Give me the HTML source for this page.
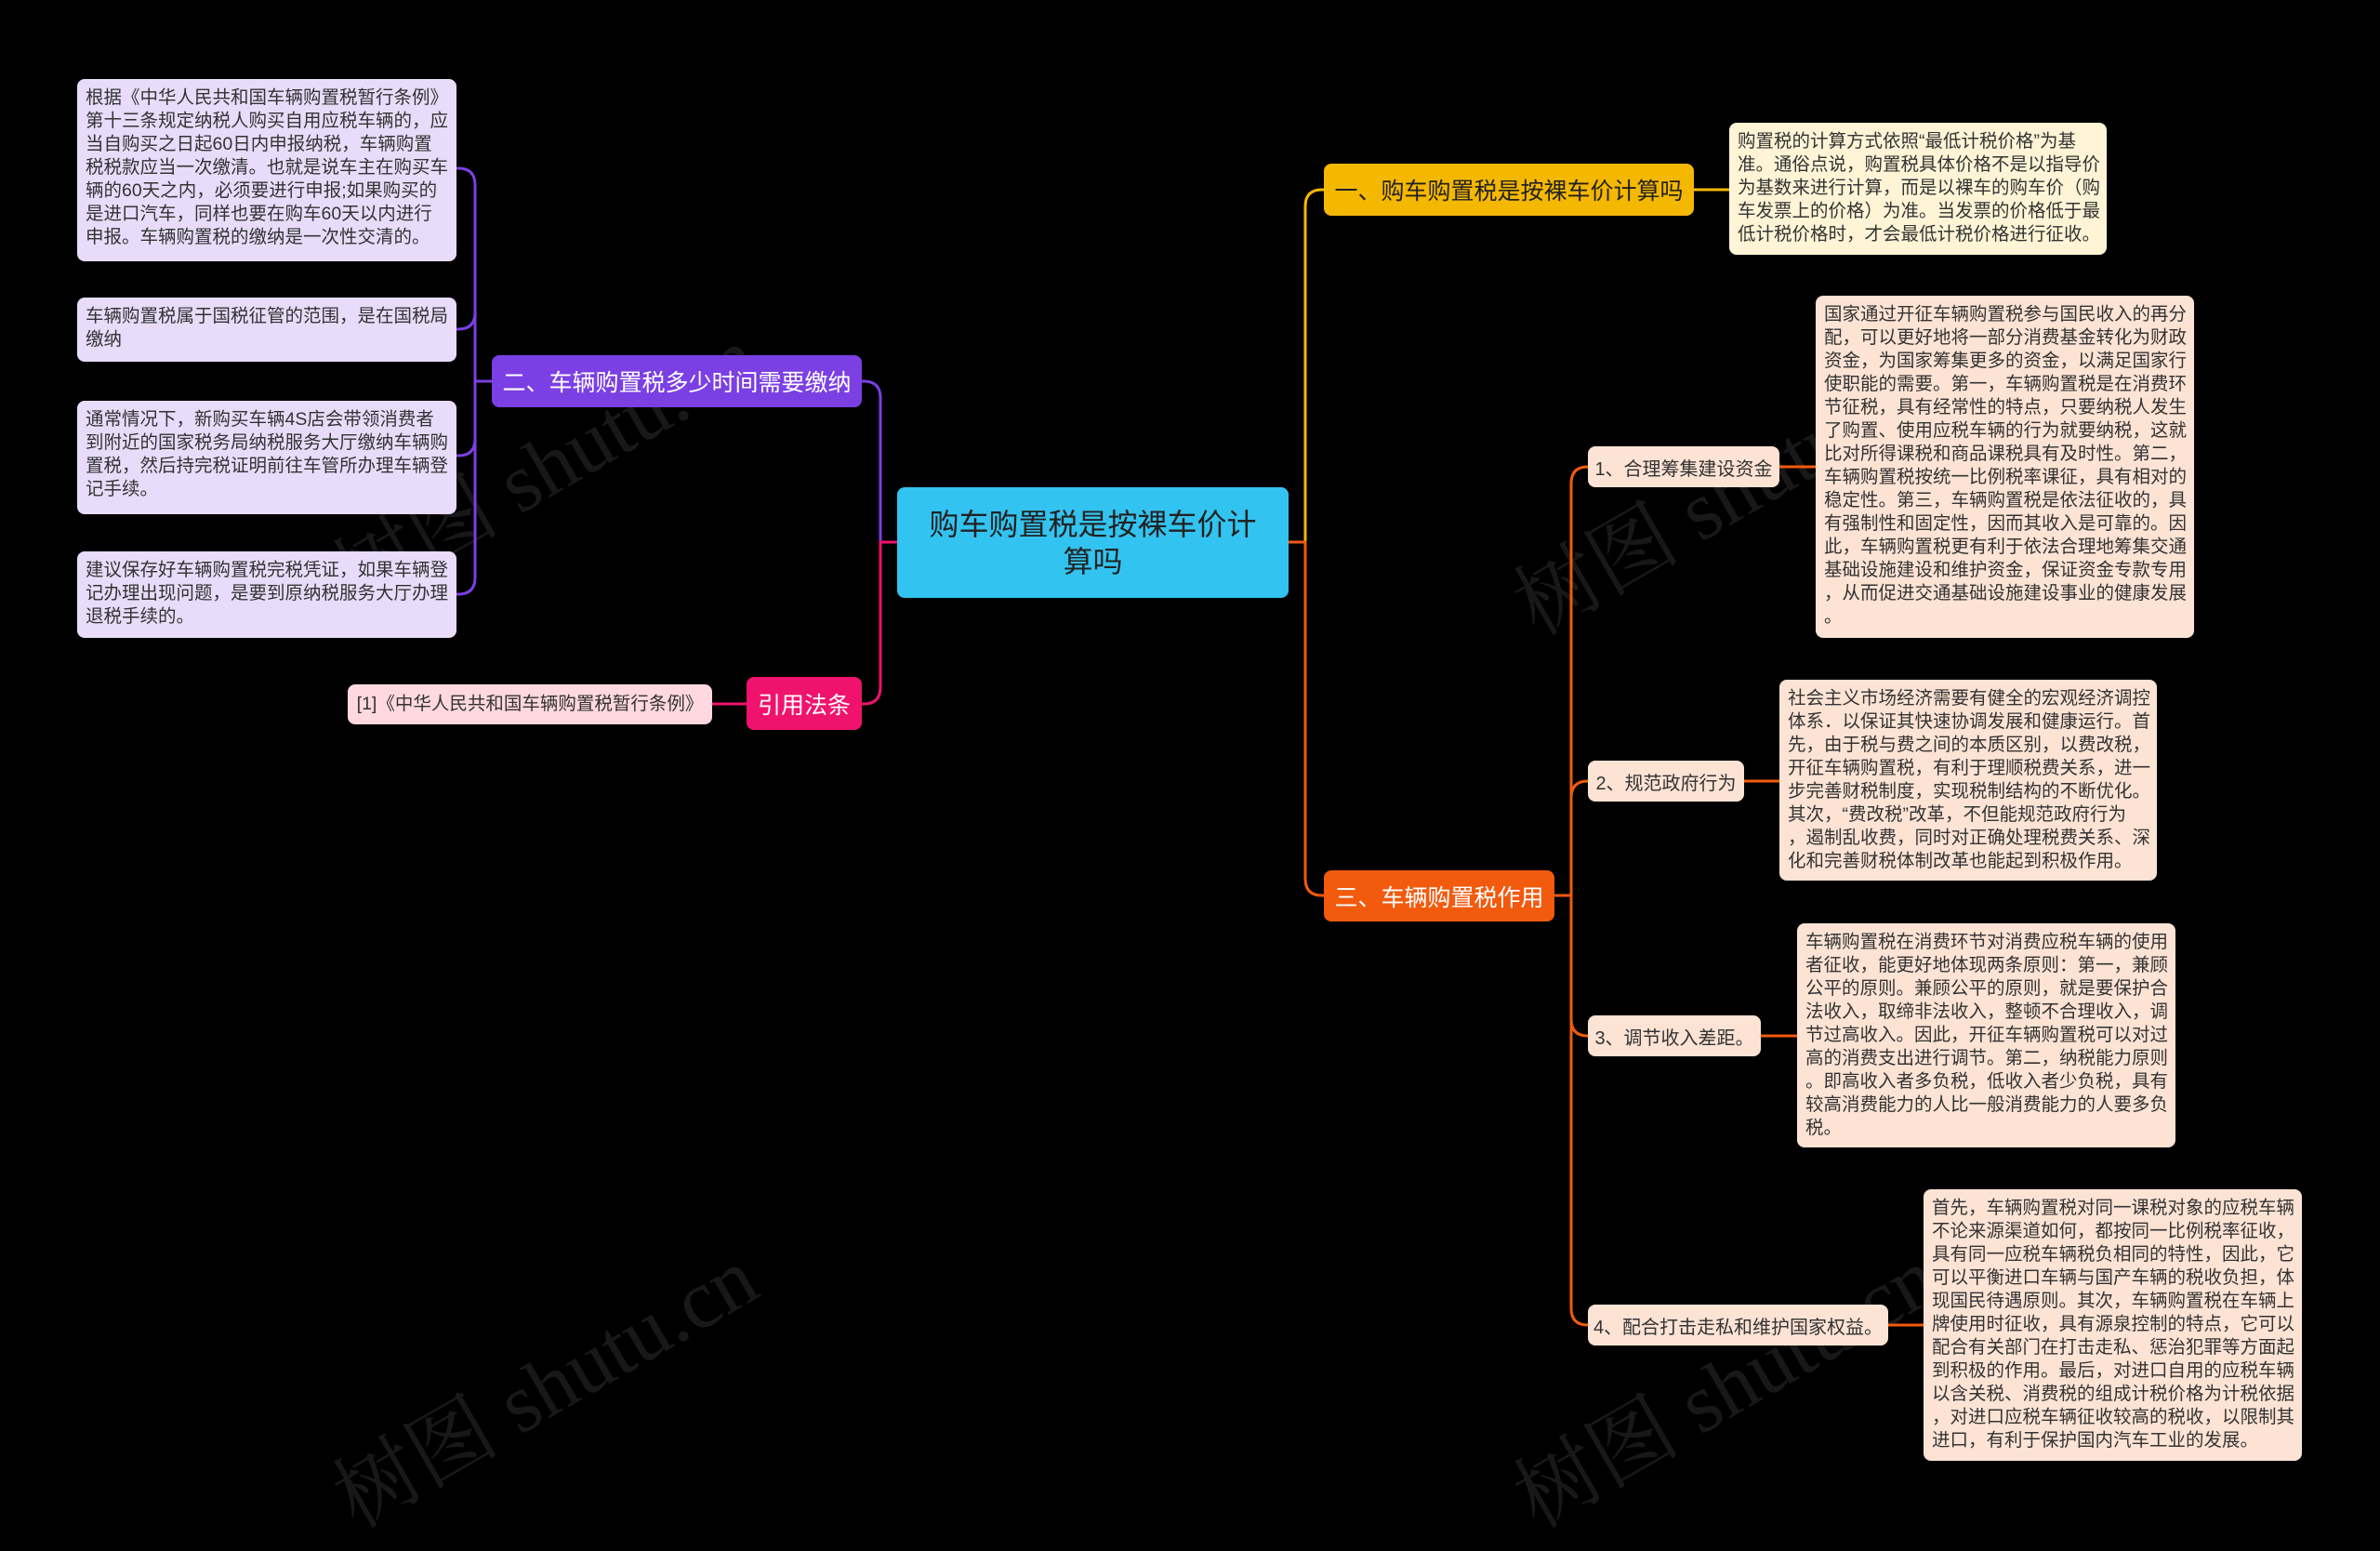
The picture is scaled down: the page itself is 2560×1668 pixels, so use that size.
<!DOCTYPE html>
<html><head><meta charset="utf-8">
<style>
html,body{margin:0;padding:0;background:#000;}
body{width:2560px;height:1655px;position:relative;overflow:hidden;font-family:"Liberation Sans","Noto Sans CJK SC",sans-serif;}
.n{position:absolute;box-sizing:border-box;border-radius:8px;}
.leaf{font-size:19.5px;line-height:25px;color:#333;padding:8px 9px;white-space:nowrap;}
.br{font-size:25px;color:#fff;display:flex;align-items:center;justify-content:center;white-space:nowrap;}
.sub{font-size:20px;color:#333;background:#fde3d4;display:flex;align-items:center;justify-content:center;white-space:nowrap;}
.wm{position:absolute;font-size:90px;color:#181818;transform:rotate(-30deg);font-family:"Liberation Serif","Noto Serif CJK SC",serif;white-space:nowrap;}
svg{position:absolute;left:0;top:0;}
</style></head><body>
<div class="wm" style="left:330px;top:430px;">树图 shutu.cn</div>
<div class="wm" style="left:330px;top:1420px;">树图 shutu.cn</div>
<div class="wm" style="left:1600px;top:460px;">树图 shutu.cn</div>
<div class="wm" style="left:1600px;top:1420px;">树图 shutu.cn</div>
<svg width="2560" height="1655" fill="none" stroke-width="3">
<path d="M1386 583 H1404 V222 Q1404 204 1422 204 H1424" stroke="#f5b800"/>
<path d="M1822 204 H1860" stroke="#f5b800"/>
<path d="M1386 583 H1404 V945 Q1404 963 1422 963 H1424" stroke="#f25a0e"/>
<g stroke="#f25a0e">
<path d="M1672 963 H1690"/>
<path d="M1690 963 V520 Q1690 502 1708 502"/>
<path d="M1690 963 V858 Q1690 840 1708 840"/>
<path d="M1690 963 V1096 Q1690 1114 1708 1114"/>
<path d="M1690 963 V1407 Q1690 1425 1708 1425"/>
<path d="M1914 502 H1953"/><path d="M1876 840 H1914"/><path d="M1894 1114 H1933"/><path d="M2031 1425 H2069"/>
</g>
<path d="M965 583 H947 V428 Q947 410 929 410 H927" stroke="#7b3fe4"/>
<g stroke="#7b3fe4">
<path d="M529 410 H511"/>
<path d="M511 410 V199 Q511 181 493 181 H491"/>
<path d="M511 410 V336 Q511 354 493 354 H491"/>
<path d="M511 410 V472 Q511 490 493 490 H491"/>
<path d="M511 410 V621 Q511 639 493 639 H491"/>
</g>
<path d="M965 583 H947 V739 Q947 757 929 757 H927" stroke="#f0136d"/>
<path d="M803 757 H766" stroke="#f0136d"/>
</svg>

<div class="n br" style="left:965px;top:524px;width:421px;height:119px;background:#33c3f0;color:#222;font-size:32px;line-height:40px;text-align:center;white-space:normal;padding:0 20px;">购车购置税是按裸车价计算吗</div>

<div class="n br" style="left:1424px;top:176px;width:398px;height:56px;background:#f5b800;color:#222;">一、购车购置税是按裸车价计算吗</div>
<div class="n leaf" style="left:1860px;top:132px;width:406px;height:142px;background:#fff4d6;">购置税的计算方式依照“最低计税价格”为基<br>准。通俗点说，购置税具体价格不是以指导价<br>为基数来进行计算，而是以裸车的购车价（购<br>车发票上的价格）为准。当发票的价格低于最<br>低计税价格时，才会最低计税价格进行征收。</div>

<div class="n br" style="left:1424px;top:936px;width:248px;height:55px;background:#f25a0e;">三、车辆购置税作用</div>
<div class="n sub" style="left:1708px;top:480px;width:206px;height:44px;">1、合理筹集建设资金</div>
<div class="n sub" style="left:1708px;top:818px;width:168px;height:44px;">2、规范政府行为</div>
<div class="n sub" style="left:1708px;top:1092px;width:186px;height:44px;">3、调节收入差距。</div>
<div class="n sub" style="left:1708px;top:1403px;width:323px;height:44px;">4、配合打击走私和维护国家权益。</div>

<div class="n leaf" style="left:1953px;top:318px;width:407px;height:368px;background:#fde3d4;">国家通过开征车辆购置税参与国民收入的再分<br>配，可以更好地将一部分消费基金转化为财政<br>资金，为国家筹集更多的资金，以满足国家行<br>使职能的需要。第一，车辆购置税是在消费环<br>节征税，具有经常性的特点，只要纳税人发生<br>了购置、使用应税车辆的行为就要纳税，这就<br>比对所得课税和商品课税具有及时性。第二，<br>车辆购置税按统一比例税率课征，具有相对的<br>稳定性。第三，车辆购置税是依法征收的，具<br>有强制性和固定性，因而其收入是可靠的。因<br>此，车辆购置税更有利于依法合理地筹集交通<br>基础设施建设和维护资金，保证资金专款专用<br>，从而促进交通基础设施建设事业的健康发展<br>。</div>
<div class="n leaf" style="left:1914px;top:731px;width:406px;height:216px;background:#fde3d4;">社会主义市场经济需要有健全的宏观经济调控<br>体系．以保证其快速协调发展和健康运行。首<br>先，由于税与费之间的本质区别，以费改税，<br>开征车辆购置税，有利于理顺税费关系，进一<br>步完善财税制度，实现税制结构的不断优化。<br>其次，“费改税”改革，不但能规范政府行为<br>，遏制乱收费，同时对正确处理税费关系、深<br>化和完善财税体制改革也能起到积极作用。</div>
<div class="n leaf" style="left:1933px;top:993px;width:407px;height:241px;background:#fde3d4;">车辆购置税在消费环节对消费应税车辆的使用<br>者征收，能更好地体现两条原则：第一，兼顾<br>公平的原则。兼顾公平的原则，就是要保护合<br>法收入，取缔非法收入，整顿不合理收入，调<br>节过高收入。因此，开征车辆购置税可以对过<br>高的消费支出进行调节。第二，纳税能力原则<br>。即高收入者多负税，低收入者少负税，具有<br>较高消费能力的人比一般消费能力的人要多负<br>税。</div>
<div class="n leaf" style="left:2069px;top:1279px;width:407px;height:292px;background:#fde3d4;">首先，车辆购置税对同一课税对象的应税车辆<br>不论来源渠道如何，都按同一比例税率征收，<br>具有同一应税车辆税负相同的特性，因此，它<br>可以平衡进口车辆与国产车辆的税收负担，体<br>现国民待遇原则。其次，车辆购置税在车辆上<br>牌使用时征收，具有源泉控制的特点，它可以<br>配合有关部门在打击走私、惩治犯罪等方面起<br>到积极的作用。最后，对进口自用的应税车辆<br>以含关税、消费税的组成计税价格为计税依据<br>，对进口应税车辆征收较高的税收，以限制其<br>进口，有利于保护国内汽车工业的发展。</div>

<div class="n br" style="left:529px;top:382px;width:398px;height:56px;background:#7b3fe4;">二、车辆购置税多少时间需要缴纳</div>
<div class="n leaf" style="left:83px;top:85px;width:408px;height:196px;background:#e8dcfa;">根据《中华人民共和国车辆购置税暂行条例》<br>第十三条规定纳税人购买自用应税车辆的，应<br>当自购买之日起60日内申报纳税，车辆购置<br>税税款应当一次缴清。也就是说车主在购买车<br>辆的60天之内，必须要进行申报;如果购买的<br>是进口汽车，同样也要在购车60天以内进行<br>申报。车辆购置税的缴纳是一次性交清的。</div>
<div class="n leaf" style="left:83px;top:320px;width:408px;height:69px;background:#e8dcfa;">车辆购置税属于国税征管的范围，是在国税局<br>缴纳</div>
<div class="n leaf" style="left:83px;top:431px;width:408px;height:122px;background:#e8dcfa;">通常情况下，新购买车辆4S店会带领消费者<br>到附近的国家税务局纳税服务大厅缴纳车辆购<br>置税，然后持完税证明前往车管所办理车辆登<br>记手续。</div>
<div class="n leaf" style="left:83px;top:593px;width:408px;height:93px;background:#e8dcfa;">建议保存好车辆购置税完税凭证，如果车辆登<br>记办理出现问题，是要到原纳税服务大厅办理<br>退税手续的。</div>

<div class="n br" style="left:803px;top:728px;width:124px;height:57px;background:#f0136d;">引用法条</div>
<div class="n leaf" style="left:374px;top:736px;width:392px;height:43px;background:#ffd8e0;display:flex;align-items:center;justify-content:center;padding:0;">[1]《中华人民共和国车辆购置税暂行条例》</div>
</body></html>
